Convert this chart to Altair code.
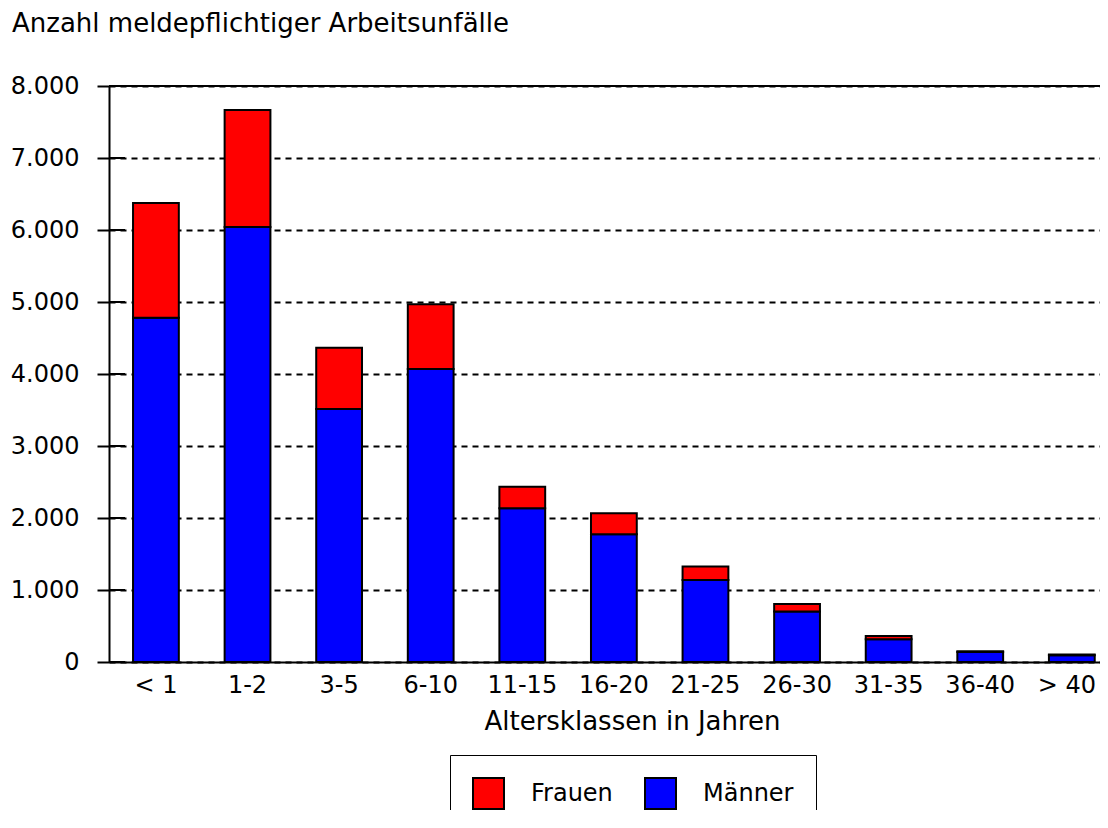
import altair as alt
import pandas as pd

categories = ["< 1", "1-2", "3-5", "6-10", "11-15", "16-20", "21-25", "26-30", "31-35", "36-40", "> 40"]
maenner = [4780, 6040, 3515, 4070, 2135, 1775, 1140, 700, 315, 140, 95]
frauen = [1595, 1625, 850, 900, 300, 290, 185, 105, 45, 10, 10]
series = ["Frauen", "Männer"]
colors = ["#ff0000", "#0000ff"]
y_ticks = [0, 1000, 2000, 3000, 4000, 5000, 6000, 7000, 8000]

rows = []
for c, m, f in zip(categories, maenner, frauen):
    rows.append({"Altersklasse": c, "Geschlecht": "Männer", "Anzahl": m, "ord": 0})
    rows.append({"Altersklasse": c, "Geschlecht": "Frauen", "Anzahl": f, "ord": 1})
df = pd.DataFrame(rows)
ticks_df = pd.DataFrame({"v": y_ticks})

FONT = "DejaVu Sans"
FS = 24

x_enc = alt.X(
    "Altersklasse:N",
    sort=categories,
    scale=alt.Scale(paddingInner=0.5, paddingOuter=0.16, align=0.82),
    axis=alt.Axis(
        title="Altersklassen in Jahren",
        labelAngle=0,
        ticks=False,
        tickSize=0,
        labelPadding=11,
        labelFont=FONT,
        labelFontSize=FS,
        labelColor="black",
        labelOffset={"condition": {"test": "datum.value == '> 40'", "value": -5}, "value": 0},
        titleFont=FONT,
        titleFontSize=26,
        titleFontWeight="normal",
        titleColor="black",
        titleX=523,
        titleY=46,
        titleAlign="center",
        titleBaseline="top",
        domainColor="black",
        domainWidth=2,
        grid=False,
    ),
)

y_scale = alt.Scale(domain=[0, 8000], nice=False)

bars = alt.Chart(df).mark_bar(stroke="black", strokeWidth=2).encode(
    x=x_enc,
    y=alt.Y(
        "Anzahl:Q",
        stack="zero",
        scale=y_scale,
        axis=alt.Axis(
            title=None,
            values=y_ticks,
            labelExpr="replace(format(datum.value, ','), ',', '.')",
            tickSize=12,
            tickWidth=2,
            tickColor="black",
            labelPadding=18,
            labelFont=FONT,
            labelFontSize=FS,
            labelColor="black",
            domainColor="black",
            domainWidth=2,
            grid=True,
            gridColor="black",
            gridWidth=2,
            gridDash=[6, 5],
        ),
    ),
    color=alt.Color(
        "Geschlecht:N",
        scale=alt.Scale(domain=series, range=colors),
        legend=alt.Legend(
            title=None,
            orient="none",
            legendX=341,
            legendY=669,
            direction="horizontal",
            padding=22,
            strokeColor="black",
            symbolType="square",
            symbolSize=961,
            symbolStrokeColor="black",
            symbolStrokeWidth=2,
            symbolOpacity=1,
            labelFont=FONT,
            labelFontSize=FS,
            labelColor="black",
            labelOffset=26,
            columnPadding=28,
        ),
    ),
    order=alt.Order("ord:Q"),
)

inner_ticks = alt.Chart(ticks_df).mark_rule(color="black", strokeWidth=2).encode(
    y=alt.Y("v:Q", scale=y_scale),
    x=alt.value(0),
    x2=alt.value(16),
)

top_line = alt.Chart(ticks_df).mark_rule(color="black", strokeWidth=2).encode(
    y=alt.Y("max(v):Q", scale=y_scale),
)

chart = (
    alt.layer(bars, inner_ticks, top_line)
    .properties(
        width=991,
        height=576,
        autosize=alt.AutoSizeParams(type="none"),
        padding={"left": 101, "top": 78, "right": 0, "bottom": 148},
        title=alt.TitleParams(
            text="Anzahl meldepflichtiger Arbeitsunfälle",
            anchor="start",
            frame="group",
            font=FONT,
            fontSize=26,
            fontWeight="normal",
            color="black",
            dx=-97,
            offset=37,
        ),
    )
    .configure_view(stroke="transparent")
    .configure(background="white")
)

chart.save("out.html", embed_options={"renderer": "svg", "actions": False})
